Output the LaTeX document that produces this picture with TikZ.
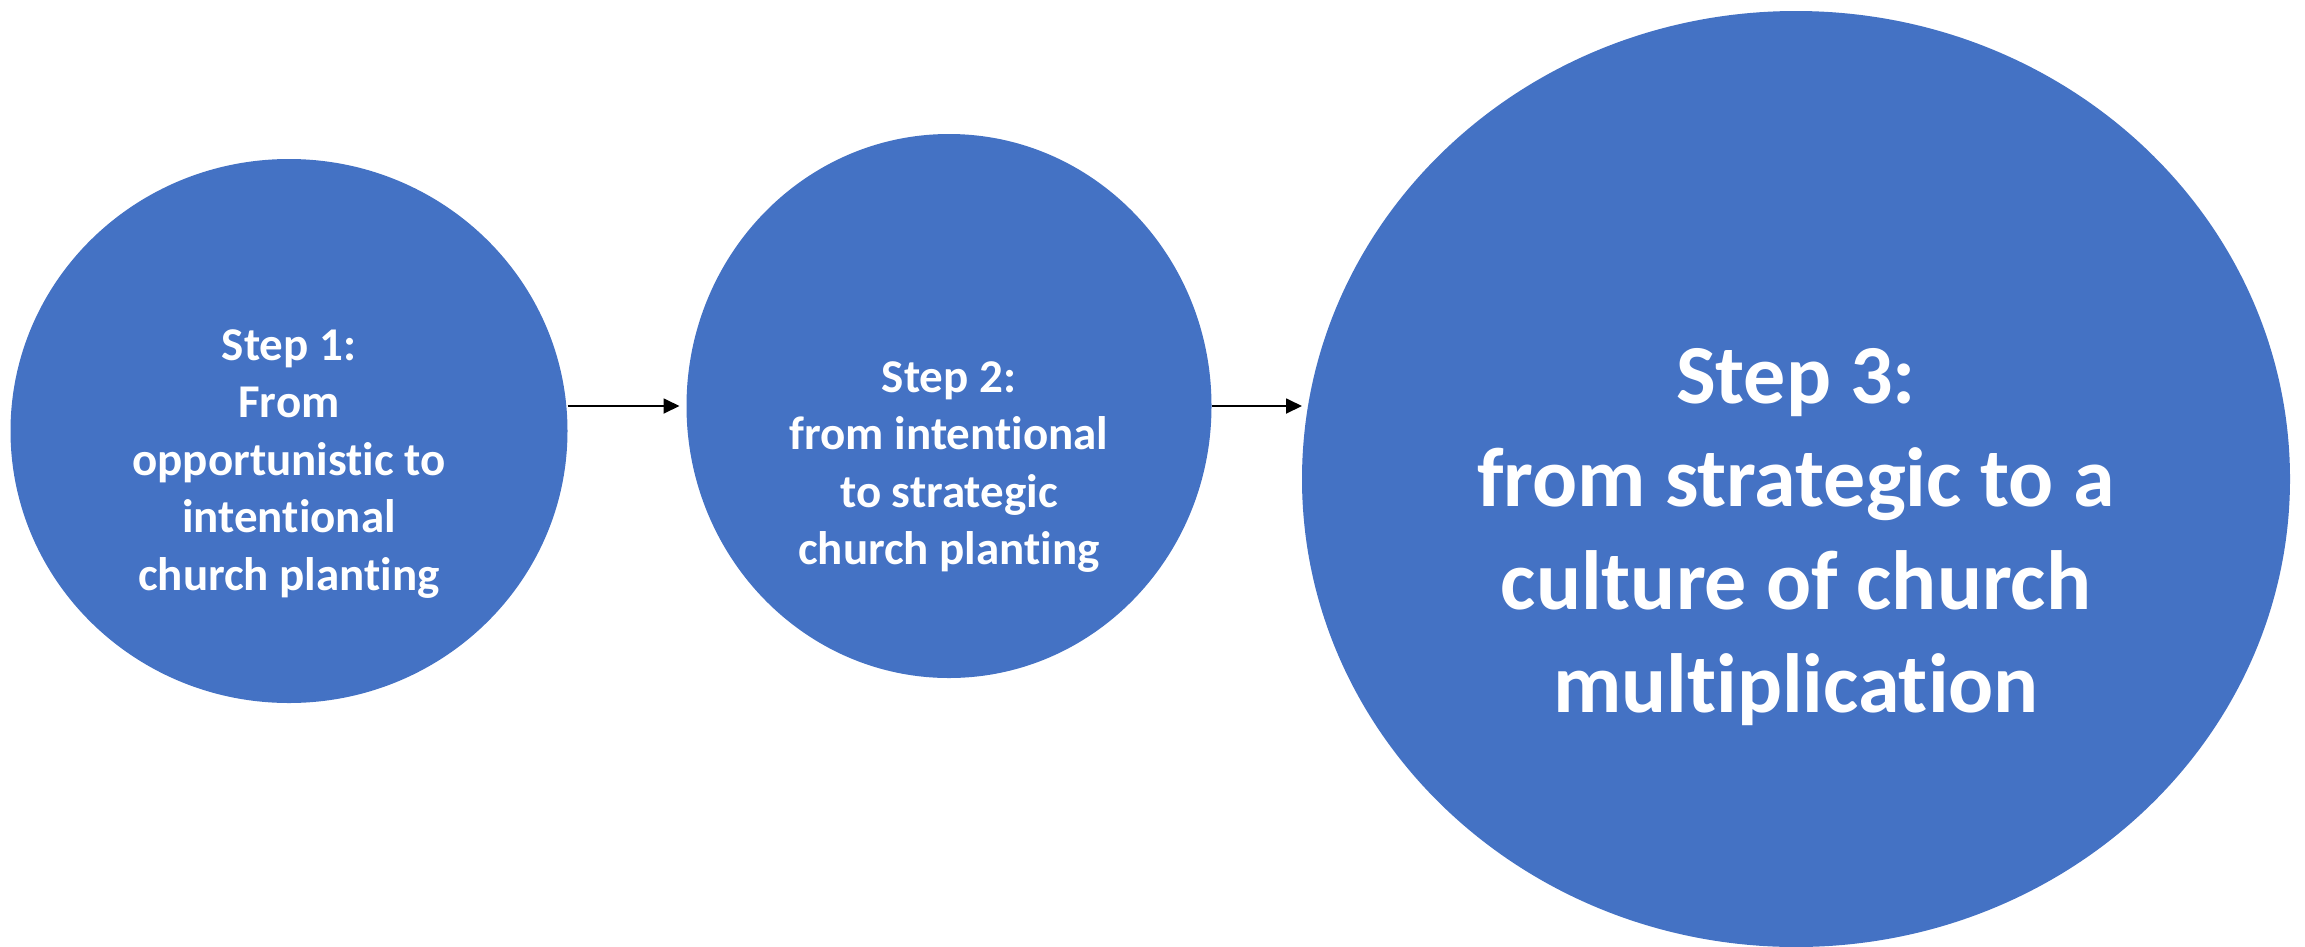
\documentclass[tikz,border=0pt]{standalone}
\usepackage{fontspec}
\setmainfont{Carlito}[Ligatures=NoCommon]
\usetikzlibrary{shapes.geometric,arrows.meta}
\definecolor{stepblue}{HTML}{4472C4}

\begin{document}
\begin{tikzpicture}[x=1pt,y=-1pt,
	stepball/.style={shape=ellipse,fill=stepblue,draw=none,inner sep=0pt,outer sep=0pt},
	steptext/.style={text=white,font=\bfseries\fontsize{47}{57.5}\selectfont,align=center},
	bigtext/.style={text=white,font=\bfseries\fontsize{84}{103}\selectfont,align=center},
	flow/.style={-{Triangle[length=16pt,width=15pt]},line width=1.8pt}]

	\useasboundingbox (0,0) rectangle (2305,946);

	\node[stepball,minimum width=557pt,minimum height=544pt] (s1) at (289,431) {};
	\node[stepball,minimum width=525pt,minimum height=544pt] (s2) at (949,406) {};
	\node[stepball,minimum width=988pt,minimum height=936pt] (s3) at (1796,479) {};

	\node[steptext] (t1) at ([yshift=-33pt]s1.center) {Step 1:\\From\\opportunistic to\\intentional\\church planting};
	\node[steptext] (t2) at ([yshift=-61pt]s2.center) {Step 2:\\from intentional\\to strategic\\church planting};
	\node[bigtext] (t3) at ([yshift=-58pt]s3.center) {Step 3:\\from strategic to a\\culture of church\\multiplication};

	\draw[flow, shorten >=7pt] (s2.west -| s1.east) -- (s2.west);
	\draw[flow] (s2.east) -- (s3.west |- s2.east);

\end{tikzpicture}
\end{document}
